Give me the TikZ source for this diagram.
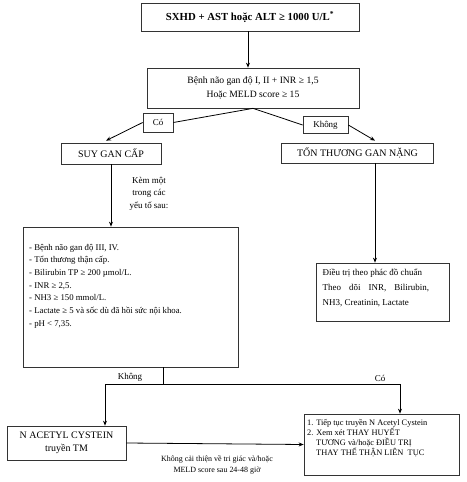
\documentclass[tikz,border=0pt]{standalone}
\usepackage{fontspec}
\setmainfont{Liberation Serif}
\usetikzlibrary{arrows.meta,calc}
\begin{document}
\begin{tikzpicture}[x=1bp,y=-1bp,
  box/.style={draw=black!80,line width=0.7pt,inner sep=0pt,align=center},
  conn/.style={draw=black,line width=0.8pt},
  arr/.style={conn,-{Stealth[length=5pt,width=4pt]}},
  lbl/.style={inner sep=0pt,align=center}]
\useasboundingbox (0,0) rectangle (467,482);
\node[box,minimum width=218bp,minimum height=28bp,font=\bfseries\fontsize{10.8}{12}\selectfont] (top) at (250,17) {SXHD + AST hoặc ALT ≥ 1000 U/L\textsuperscript{*}};
\node[box,minimum width=212bp,minimum height=40bp,font=\fontsize{9.7}{13.5}\selectfont] (q) at (253,88) {Bệnh não gan độ I, II + INR ≥ 1,5\\Hoặc MELD score ≥ 15};
\node[box,minimum width=30bp,minimum height=19bp,font=\fontsize{9}{11}\selectfont] (co) at (158,122.5) {Có};
\node[box,minimum width=45bp,minimum height=17bp,font=\fontsize{9}{11}\selectfont] (kh) at (325.5,125) {Không};
\node[box,minimum width=100bp,minimum height=21bp,font=\fontsize{10}{12}\selectfont] (suy) at (111,153.5) {SUY GAN CẤP};
\node[box,minimum width=152bp,minimum height=20bp,font=\fontsize{10}{12}\selectfont] (ton) at (357.5,153) {TỔN THƯƠNG GAN NẶNG};
\node[lbl,font=\fontsize{9}{12.5}\selectfont] (kem) at (149,193.5) {Kèm một\\trong các\\yếu tố sau:};
\node[box,minimum width=215bp,minimum height=140bp] (crit) at (130.5,297) {};
\node[lbl,anchor=north west,align=left,font=\fontsize{8.8}{12.7}\selectfont] (critt) at (29,244) {%
- Bệnh não gan độ III, IV.\\
- Tổn thương thận cấp.\\
- Bilirubin TP ≥ 200 µmol/L.\\
- INR ≥ 2,5.\\
- NH3 ≥ 150 mmol/L.\\
- Lactate ≥ 5 và sốc dù đã hồi sức nội khoa.\\
- pH < 7,35.};
\node[box,minimum width=133bp,minimum height=58bp] (treat) at (382.5,292) {};
\node[lbl,anchor=north west,font=\fontsize{9}{15}\selectfont] (treatt) at (322.5,269) {\parbox{121bp}{\raggedright Điều trị theo phác đồ chuẩn\\[0pt]{\spaceskip=0.9em plus 1em Theo dõi INR, Bilirubin,}\\NH3, Creatinin, Lactate}};
\coordinate (j) at (163,384);
\node[box,minimum width=119bp,minimum height=34bp,font=\fontsize{10}{13}\selectfont] (nac) at (66.5,443) {N ACETYL CYSTEIN\\truyền TM};
\node[box,minimum width=155bp,minimum height=61bp] (res) at (381.5,444.5) {};
\node[lbl,anchor=north west,align=left,font=\fontsize{8.4}{10}\selectfont] (rest) at (307,419) {1. Tiếp tục truyền N Acetyl Cystein\\2. Xem xét THAY HUYẾT\\\hspace*{9bp}TƯƠNG và/hoặc ĐIỀU TRỊ\\\hspace*{9bp}THAY THẾ THẬN LIÊN\ \ TỤC};
\node[lbl,font=\fontsize{8}{11}\selectfont] (nl) at (217,464.5) {Không cải thiện về tri giác và/hoặc\\MELD score sau 24-48 giờ};
\node[lbl,font=\fontsize{9}{11}\selectfont] (l1) at (130,377) {Không};
\node[lbl,font=\fontsize{9}{11}\selectfont] (l2) at (380,378) {Có};
% connectors
\draw[arr] (top.south -| 248,0) -- (q.north -| 248,0);
\draw[conn] (q.south) -- (co.east);
\draw[arr] (co.west) -- ($(suy.north -| 106,0)+(0,-2)$);
\draw[conn] (q.south) -- (kh.west);
\draw[arr] (kh.east) -- ($(ton.north -| 375,0)+(0,-2)$);
\draw[arr] (suy.south) -- (crit.north -| suy.south);
\draw[arr] (ton.south -| 375,0) -- (treat.north -| 375,0);
\draw[conn] (crit.south -| j) -- (j);
\draw[arr] (j) -| (nac.north -| 105,0);
\draw[arr] (j) -| (res.north -| 400,0);
\draw[arr] (nac.east) -- (res.west);
\end{tikzpicture}
\end{document}
